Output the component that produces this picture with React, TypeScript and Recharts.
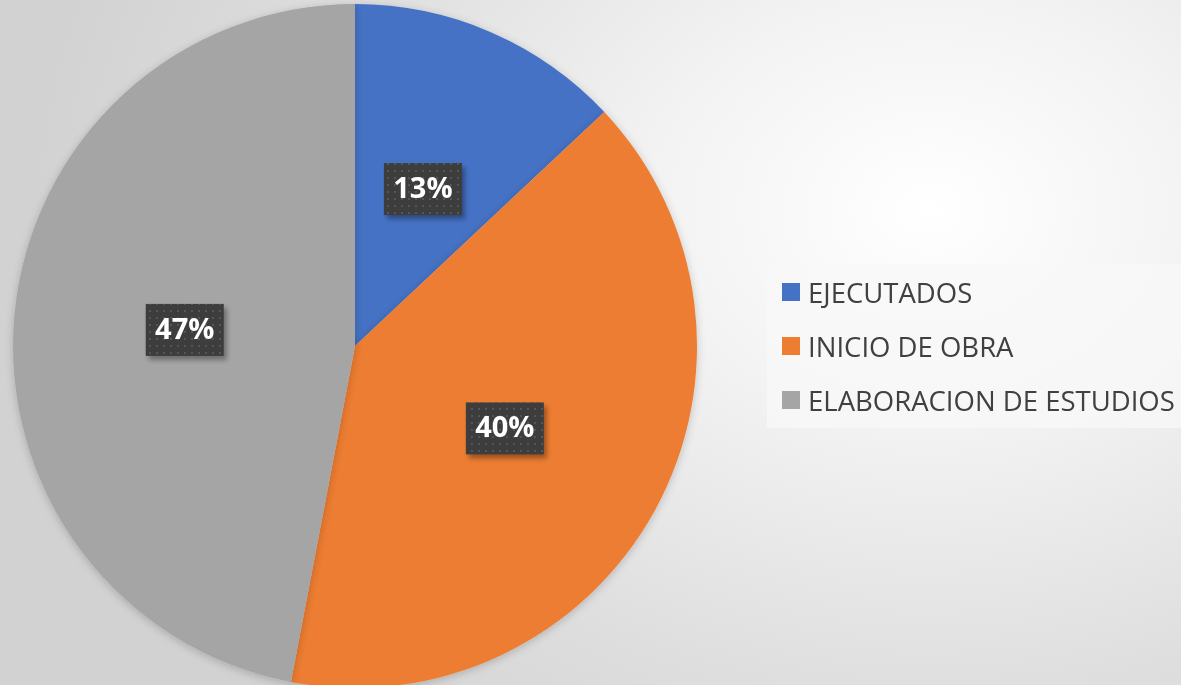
import { PieChart, Pie, Cell, Legend } from "recharts";

const categories = ["EJECUTADOS", "INICIO DE OBRA", "ELABORACION DE ESTUDIOS"];
const shares = [13, 40, 47];
const colors = ["#4472C4", "#ED7D31", "#A5A5A5"];

const data = categories.map((name, i) => ({ name, value: shares[i] }));

const RADIAN = Math.PI / 180;

function renderLabel(props: any) {
  const { cx, cy, midAngle, outerRadius, index, value } = props;
  const r = outerRadius * 0.5;
  const x = cx + r * Math.cos(-midAngle * RADIAN);
  const y = cy + r * Math.sin(-midAngle * RADIAN);
  const w = 78;
  const h = 52;
  const pid = `dots-${index}`;
  const sid = `lblShadow-${index}`;
  return (
    <g>
      <defs>
        <pattern id={pid} width="7" height="7" patternUnits="userSpaceOnUse">
          <rect width="7" height="7" fill="#3d3d3d" />
          <rect x="2" y="2" width="2" height="2" fill="#555555" />
        </pattern>
        <filter id={sid} x="-20%" y="-20%" width="150%" height="150%">
          <feGaussianBlur stdDeviation="2.5" />
        </filter>
      </defs>
      <rect
        x={x - w / 2 + 3}
        y={y - h / 2 + 4}
        width={w}
        height={h}
        fill="rgba(0,0,0,0.35)"
        filter={`url(#${sid})`}
      />
      <rect x={x - w / 2} y={y - h / 2} width={w} height={h} fill={`url(#${pid})`} />
      <text
        x={x}
        y={y + 1}
        fill="#ffffff"
        textAnchor="middle"
        dominantBaseline="middle"
        fontFamily="'Open Sans', sans-serif"
        fontWeight="bold"
        fontSize={29}
      >
        {`${value}%`}
      </text>
    </g>
  );
}

function LegendBox() {
  return (
    <div
      style={{
        width: 414,
        height: 164,
        background: "rgba(248,248,248,0.75)",
        boxSizing: "border-box",
        paddingTop: 1,
        paddingLeft: 15,
        fontFamily: "'Open Sans', sans-serif",
        fontSize: 27.5,
        color: "#404040",
      }}
    >
      {categories.map((c, i) => (
        <div key={c} style={{ display: "flex", alignItems: "center", height: 54 }}>
          <span
            style={{
              display: "inline-block",
              width: 18,
              height: 18,
              background: colors[i],
              marginRight: 8,
              flexShrink: 0,
            }}
          />
          <span style={{ whiteSpace: "nowrap" }}>{c}</span>
        </div>
      ))}
    </div>
  );
}

export default function App() {
  return (
    <div
      style={{
        position: "fixed",
        left: 0,
        top: 0,
        width: 1181,
        height: 685,
        overflow: "hidden",
        background:
          "radial-gradient(ellipse 900px 700px at 930px 210px, #ffffff 0%, #f3f3f3 30%, #dedede 70%, #d2d2d2 100%)",
      }}
    >
      <PieChart width={1181} height={685} margin={{ top: 0, right: 0, bottom: 0, left: 0 }}>
        <defs>
          <filter id="pieShadow" x="-10%" y="-10%" width="120%" height="120%">
            <feDropShadow dx="0" dy="2" stdDeviation="4" floodColor="#000" floodOpacity="0.2" />
          </filter>
        </defs>
        <Pie
          data={data}
          dataKey="value"
          nameKey="name"
          cx={355}
          cy={346}
          outerRadius={342}
          startAngle={90}
          endAngle={-270}
          stroke="none"
          label={renderLabel}
          labelLine={false}
          isAnimationActive={false}
          style={{ filter: "url(#pieShadow)" }}
        >
          {data.map((d, i) => (
            <Cell key={d.name} fill={colors[i]} />
          ))}
        </Pie>
        <Legend
          content={() => <LegendBox />}
          wrapperStyle={{ left: 767, top: 264, width: 414 }}
        />
      </PieChart>
    </div>
  );
}
